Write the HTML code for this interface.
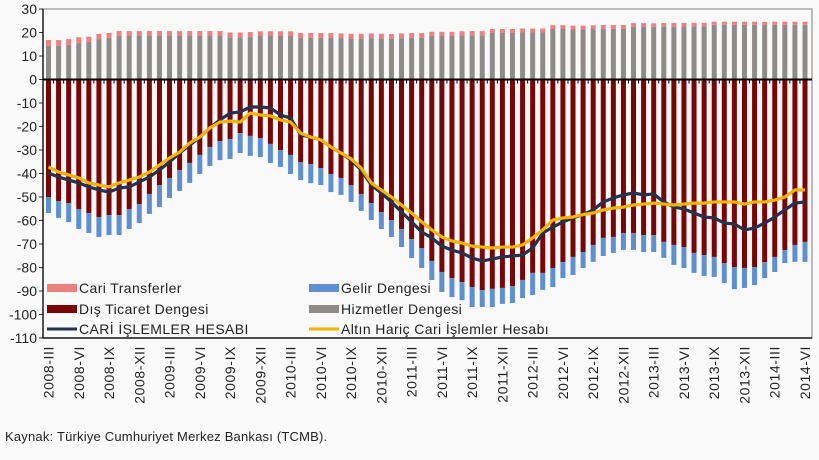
<!DOCTYPE html>
<html><head><meta charset="utf-8"><style>
body{margin:0;background:#fafafa;width:819px;height:460px;overflow:hidden;font-family:"Liberation Sans",sans-serif}
svg{display:block}
</style></head><body>
<svg id="chart" width="819" height="460" xmlns="http://www.w3.org/2000/svg"></svg>
<script>
const periods=[];
(function(){const r=['III','VI','IX','XII'];let y=2008,q=0;for(let i=0;i<76;i++){periods.push(i%3===0?(y+'-'+r[q]):'');if(i%3===2){q++;if(q===4){q=0;y++;}}}})();
const trade=[-50,-51.7,-52.6,-55.1,-56.8,-58.5,-57.7,-57.7,-55.1,-53,-48.7,-44.9,-41.9,-38.5,-35.5,-32.1,-28.7,-26.2,-25.3,-22.8,-24,-24.9,-27.4,-30,-32.1,
-35.1,-36,-37.7,-40.2,-41.9,-44.9,-48.7,-52.6,-56.4,-59.8,-63.6,-67.9,-71.7,-77.2,-81.9,-84.5,-86.2,-88.3,-89.6,-89.1,-88.7,-87.9,-85.3,-82.3,-82.3,
-80.2,-77.7,-75.5,-73.4,-70.4,-67.4,-67,-65.3,-65.3,-66.2,-66.2,-69.1,-70.4,-71.3,-73.8,-74.7,-75.5,-78.1,-79.8,-80.2,-79.8,-77.7,-75.5,-72.6,-70.4,-69.1];
const income=[-6.8,-7.2,-8.1,-8.5,-8.5,-8.5,-8.5,-8.5,-8.5,-8.1,-8.5,-9.4,-8.5,-8.9,-8.5,-8.1,-8.1,-8.1,-8.5,-8.5,-8.5,-8.1,-8.1,-7.2,-8.1,
-7.7,-8.1,-7.2,-7.7,-7.2,-7.2,-7.2,-7.2,-7.2,-7.2,-7.7,-8.1,-8.5,-8.1,-8.5,-8.1,-7.7,-8.5,-7.2,-7.7,-6.8,-7.2,-7.7,-9.4,-7.2,
-8.1,-6.8,-7.7,-6.8,-7.2,-7.7,-6.8,-7.2,-7.2,-7.2,-7.2,-6.8,-8.5,-8.9,-8.5,-8.9,-8.5,-8.5,-9.4,-8.5,-7.7,-6.8,-6.4,-5.5,-7.2,-8.5];
const services=[14.3,14.3,14.7,15.5,16,17.2,17.7,18.5,18.5,18.5,18.5,18.5,18.5,18.5,18.5,18.5,18.5,18.5,18,18,18.2,18.5,18.5,18.5,18.5,
17.8,17.8,17.8,17.8,17.6,17.5,17.5,17.6,17.5,17.4,17.6,17.8,17.8,18.5,18.5,18.5,18.7,18.8,18.8,19.8,19.8,19.8,20,20,20,
21.5,21.5,21.3,21.3,21.5,21.6,21.6,21.6,22.5,22.5,22.4,22.5,22.5,22.6,22.6,22.6,23.3,23.3,23.3,23.3,23.3,23.2,23.3,23.3,23.3,23.3];
const transfers=[2.5,2.5,2.5,2.5,2.2,2.2,2.1,2.1,2.1,2.1,2.1,2.1,2.1,2.1,2.1,2.1,2.1,2.1,2,2,2,2,2,2,2,
2,2,2,2,2,2,2,2,2,2,2,2,2,1.8,1.8,1.8,1.8,1.8,1.8,1.7,1.7,1.7,1.7,1.7,1.7,
1.6,1.6,1.6,1.6,1.6,1.6,1.6,1.6,1.5,1.5,1.5,1.5,1.5,1.5,1.5,1.5,1.3,1.3,1.3,1.3,1.3,1.3,1.3,1.3,1.3,1.3];
const currentAccount=[-39.8,-41.5,-42.8,-44,-45.7,-47,-47.9,-46.2,-45.7,-43.6,-41.5,-38.5,-35.1,-31.3,-27.9,-24.5,-20.6,-17.2,-14.3,-13.8,-11.7,-11.7,-12.1,-15.1,-16.4,
-23.6,-24.5,-25.7,-28.7,-31.3,-34.3,-38.5,-44.9,-48.3,-52.1,-56.4,-60.6,-64.9,-67.4,-70.9,-72.6,-73.8,-76,-77.2,-76.4,-75.5,-75.1,-74.7,-71.7,-65.3,
-62.8,-60.6,-58.9,-57.5,-55.5,-52.1,-50.4,-49.1,-48.3,-49.1,-48.7,-52.1,-54.3,-55.1,-56.8,-58.5,-58.9,-61.1,-61.5,-64,-63.2,-61.1,-58.5,-55.5,-52.6,-52.1];
const exGold=[-37.2,-39.4,-40.6,-41.9,-44,-44.9,-45.7,-44,-42.8,-41.5,-39.4,-36.4,-33.4,-30.9,-27,-24.5,-20.6,-18.1,-17.7,-18.1,-14.3,-15.1,-15.5,-17.2,-18.1,
-22.8,-24.5,-25.7,-28.7,-31.3,-33.8,-37.7,-44,-47,-50,-53.4,-56.8,-60.6,-64,-67,-68.7,-69.6,-70.9,-71.3,-71.7,-71.3,-71.3,-70.4,-67.4,-64,
-59.8,-58.9,-58.5,-57.5,-56.8,-55.5,-54.7,-54.3,-53.4,-53,-52.6,-53,-53.4,-53,-52.6,-52.6,-52.1,-52.1,-52.1,-53,-52.1,-52.1,-51.3,-50,-47,-47];
const yTicks=[30,20,10,0,-10,-20,-30,-40,-50,-60,-70,-80,-90,-100,-110];

const NS='http://www.w3.org/2000/svg',svg=document.getElementById('chart');
const L=43,R=812,T=9,B=338,yMax=30,yMin=-110;
const y=v=>T+(yMax-v)/(yMax-yMin)*(B-T);
const x=i=>48.5+i*(805-48.5)/75;
function mk(t,a,p){const e=document.createElementNS(NS,t);for(const k in a)e.setAttribute(k,a[k]);(p||svg).appendChild(e);return e;}
let f=mk('rect',{x:L,y:T,width:R-L,height:B-T,fill:'#f9f9f9',stroke:'#a8a8a8','stroke-width':1.5});


yTicks.forEach(v=>{
 const t=mk('text',{x:37,y:y(v)+5,'text-anchor':'end','font-size':14,fill:'#222'});t.textContent=v;
 
 
 mk('line',{x1:L-4,x2:L,y1:y(v),y2:y(v),stroke:'#333'});
});
const bw=5;
trade.forEach((v,i)=>{
 const cx=x(i);
 const r1=mk('rect',{x:cx-bw/2,y:y(0),width:bw,height:y(v)-y(0),fill:'#7b0505'});
 
 
 const r2=mk('rect',{x:cx-bw/2,y:y(v),width:bw,height:y(v+income[i])-y(v),fill:'#5e8fd2'});
 
 
 const r3=mk('rect',{x:cx-bw/2,y:y(services[i]),width:bw,height:y(0)-y(services[i]),fill:'#8e8b88'});
 
 
 const r4=mk('rect',{x:cx-bw/2,y:y(services[i]+transfers[i]),width:bw,height:y(services[i])-y(services[i]+transfers[i]),fill:'#ef8080'});
 
 
 if(i<75)mk('line',{x1:cx+(x(1)-x(0))/2,x2:cx+(x(1)-x(0))/2,y1:y(0),y2:y(0)+4,stroke:'#000'});
 if(periods[i]){
  const t=mk('text',{transform:`translate(${cx+5},${B+8}) rotate(-90)`,'text-anchor':'end','font-size':14,'letter-spacing':0.6,fill:'#222'});
  t.textContent=periods[i];
  
  
 }
});
mk('line',{x1:L,x2:R,y1:y(0),y2:y(0),stroke:'#000','stroke-width':2});
mk('line',{x1:L,x2:L,y1:T,y2:B,stroke:'#000','stroke-width':1.2});
mk('line',{x1:L,x2:R,y1:B,y2:B,stroke:'#000','stroke-width':1.2});
function line(arr,col,name){
 const p=mk('polyline',{points:arr.map((v,i)=>x(i)+','+y(v)).join(' '),fill:'none',stroke:col,'stroke-width':3.2,'stroke-linejoin':'round'});
 
 
}
line(currentAccount,'#24314f','line-current-account');
line(exGold,'#f4b400','line-current-account-ex-gold');
const leg=[['Cari Transferler','#ef8080',47,288,8],['Dış Ticaret Dengesi','#7b0505',47,309,8],['CARİ İŞLEMLER HESABI','#24314f',47,329,3],
['Gelir Dengesi','#5e8fd2',309,288,8],['Hizmetler Dengesi','#8e8b88',309,309,8],['Altın Hariç Cari İşlemler Hesabı','#f4b400',309,329,3]];
leg.forEach(l=>{
 const g=mk('g',{});
 
 
 mk('rect',{x:l[2],y:l[3]-l[4]/2,width:30,height:l[4],fill:l[1]},g);
 const t=mk('text',{x:l[2]+32,y:l[3]+5,'font-size':14,'letter-spacing':0.4,fill:'#222'},g);t.textContent=l[0];
});
const s=mk('text',{x:5,y:441,'font-size':13,'letter-spacing':0.2,fill:'#222'});
s.textContent='Kaynak: Türkiye Cumhuriyet Merkez Bankası (TCMB).';


</script>
</body></html>
